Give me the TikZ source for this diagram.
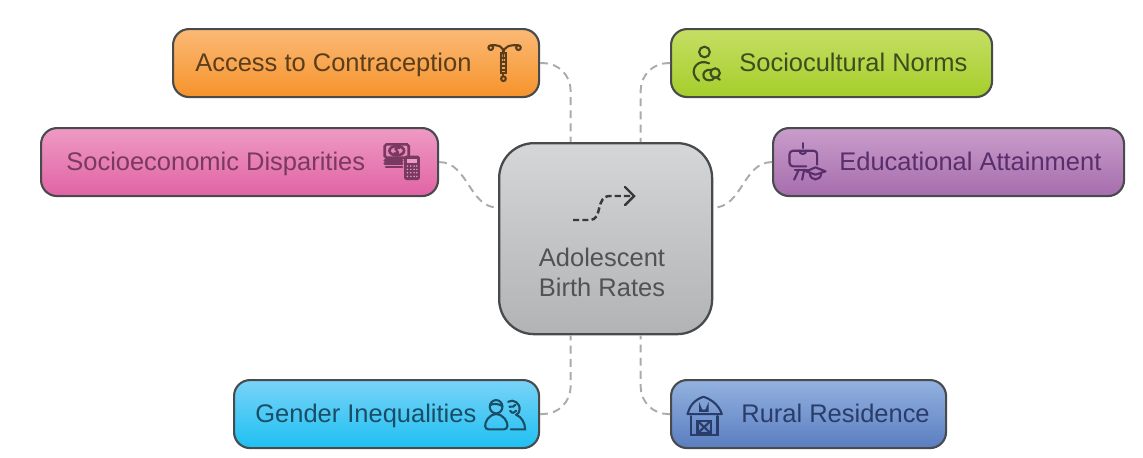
\documentclass[tikz,border=0pt]{standalone}
\usepackage{fontspec}
\setmainfont{Liberation Sans}
\usetikzlibrary{calc,arrows.meta}
\definecolor{linkgray}{HTML}{ABABAB}
\definecolor{edgegray}{HTML}{474B4C}
\definecolor{orangetop}{HTML}{FBB976}
\definecolor{orangebot}{HTML}{F6932B}
\definecolor{orangeink}{HTML}{5A3E1C}
\definecolor{pinktop}{HTML}{EE9AC4}
\definecolor{pinkbot}{HTML}{E163A4}
\definecolor{pinkink}{HTML}{783A60}
\definecolor{greentop}{HTML}{C6DE64}
\definecolor{greenbot}{HTML}{A5CE2A}
\definecolor{greenink}{HTML}{3D4E1E}
\definecolor{purpletop}{HTML}{C99DCB}
\definecolor{purplebot}{HTML}{A66DAD}
\definecolor{purpleink}{HTML}{582E6C}
\definecolor{skytop}{HTML}{79D3F8}
\definecolor{skybot}{HTML}{1EC0F2}
\definecolor{skyink}{HTML}{1A4E66}
\definecolor{bluetop}{HTML}{93B2E0}
\definecolor{bluebot}{HTML}{5A7DC0}
\definecolor{blueink}{HTML}{2A3D6A}
\definecolor{hubtop}{HTML}{D5D6D7}
\definecolor{hubbot}{HTML}{B2B3B5}
\tikzset{
  topic/.style 2 args={draw=edgegray, line width=1.2pt, rounded corners=0.32cm, minimum height=1.36cm, anchor=north west, inner sep=0pt, top color=#1, bottom color=#2},
  hub/.style={draw=edgegray, line width=1.3pt, rounded corners=0.7cm, minimum width=4.26cm, minimum height=3.82cm, anchor=north west, inner sep=0pt, top color=hubtop, bottom color=hubbot},
  lbl/.style={inner sep=0pt, anchor=base west, font=\fontsize{14.5}{17}\selectfont},
  link/.style={draw=linkgray, line width=1.1pt, dash pattern=on 4.5pt off 3pt},
  icon/.style 2 args={shift={(#1*0.02,-#2*0.02)}, x=0.00667cm, y=-0.00667cm, line width=1.2pt, line cap=round},
}
\begin{document}
\begin{tikzpicture}
  \useasboundingbox (0,0) rectangle (22.86,-9.14);
  % boxes
  \node[topic={orangetop}{orangebot}, minimum width=7.32cm] (access) at (3.44,-0.56) {};
  \node[topic={pinktop}{pinkbot}, minimum width=7.94cm] (socioeco) at (0.8,-2.54) {};
  \node[topic={greentop}{greenbot}, minimum width=6.42cm] (norms) at (13.4,-0.56) {};
  \node[topic={purpletop}{purplebot}, minimum width=7.02cm] (edu) at (15.44,-2.54) {};
  \node[topic={skytop}{skybot}, minimum width=6.1cm] (gender) at (4.66,-7.58) {};
  \node[topic={bluetop}{bluebot}, minimum width=5.5cm] (rural) at (13.4,-7.58) {};
  \node[hub] (birth) at (9.96,-2.84) {};
  % dashed links
  \draw[link, rounded corners=0.55cm] (access.east) -| ($(birth.north)+(-0.7,0)$);
  \draw[link, rounded corners=0.55cm] (norms.west) -| ($(birth.north)+(0.7,0)$);
  \draw[link, rounded corners=0.55cm] (gender.east) -| ($(birth.south)+(-0.7,0)$);
  \draw[link, rounded corners=0.55cm] (rural.west) -| ($(birth.south)+(0.7,0)$);
  \draw[link] (socioeco.east) to[out=0, in=180] ($(birth.west)+(0,0.62)$);
  \draw[link] (edu.west) to[out=180, in=0] ($(birth.east)+(0,0.62)$);
  % labels
  \node[lbl, text=orangeink] (accesstext) at (3.9,-1.42) {Access to Contraception};
  \node[lbl, text=pinkink] (socioecotext) at (1.32,-3.4) {Socioeconomic Disparities};
  \node[lbl, text=greenink] (normstext) at (14.78,-1.42) {Sociocultural Norms};
  \node[lbl, text=purpleink] (edutext) at (16.78,-3.4) {Educational Attainment};
  \node[lbl, text=skyink] (gendertext) at (5.1,-8.44) {Gender Inequalities};
  \node[lbl, text=blueink] (ruraltext) at (14.82,-8.44) {Rural Residence};
  \node[lbl, anchor=center, align=center, text=black!68] (birthtext) at (12.04,-5.44) {Adolescent\\Birth Rates};
  % hub arrow
  \draw[black!78, line width=1.4pt, dash pattern=on 3.5pt off 1.8pt] (11.46,-4.4) -- (11.8,-4.4) .. controls (12.06,-4.4) and (11.9,-3.92) .. (12.2,-3.92) -- (12.66,-3.92);
  \draw[black!78, line width=1.4pt, line cap=round] (12.5,-3.74) -- (12.68,-3.92) -- (12.5,-4.1);
  % contraception icon
  \begin{scope}[icon={480}{35}, draw=orangeink]
    \draw (32,38) circle (7) (115,38) circle (7);
    \draw (32,31) .. controls (55,29) and (70,33) .. (70,55) .. controls (70,33) and (92,29) .. (115,31);
    \draw (62,55) rectangle (78,115);
    \draw (62,68) -- (78,68) (62,81) -- (78,81) (62,94) -- (78,94) (62,105) -- (78,105);
    \draw (70,115) -- (70,124);
    \draw (70,131) circle (7);
  \end{scope}
  % money and calculator icon
  \begin{scope}[icon={378}{135}, draw=pinkink]
    \draw[line width=1.5pt, rounded corners=1pt] (20,28) rectangle (92,68);
    \draw[line width=1.5pt] (56,47) ellipse (22 and 14);
    \draw[line width=1pt] (64,40) .. controls (54,34) and (46,42) .. (56,47) .. controls (66,52) and (58,60) .. (48,54) (56,34) -- (56,60);
    \draw[line width=1.6pt] (20,76) -- (72,76) (20,86) -- (72,86) (24,96) -- (72,96);
    \fill[pinkink, rounded corners=1pt] (78,62) rectangle (125,135);
    \fill[pinktop] (87,71) rectangle (116,84);
    \foreach \kx in {88,98,108,116}
      \foreach \ky in {93,103,113,124}
        \fill[pinktop] (\kx,\ky) circle (2.6);
  \end{scope}
  % mother and child icon
  \begin{scope}[icon={685}{38}, draw=greenink]
    \draw (58,42) circle (16);
    \draw (72,76) .. controls (40,62) and (18,90) .. (28,112) .. controls (31,120) and (36,126) .. (42,128);
    \draw (90,105) circle (14);
    \draw (78,96) .. controls (62,92) and (50,105) .. (56,118) .. controls (62,130) and (82,130) .. (88,119);
    \draw (94,118) -- (104,125);
  \end{scope}
  % board and cap icon
  \begin{scope}[icon={782}{138}, draw=purpleink]
    \draw (62,15) -- (62,30);
    \draw (52,38) arc (180:0:10);
    \draw[rounded corners=2pt] (72,85) -- (22,85) -- (22,38) -- (105,38) -- (105,80);
    \draw (38,95) -- (75,95);
    \draw (50,95) -- (36,125) (66,95) -- (60,125);
    \draw[line join=round] (72,100) -- (100,88) -- (130,100) -- (100,110) -- cycle;
    \draw (83,106) .. controls (84,130) and (116,130) .. (117,106);
  \end{scope}
  % two people icon
  \begin{scope}[icon={480}{390}, draw=skyink]
    \draw (48,50) ellipse (19 and 20);
    \draw (30,45) .. controls (40,40) and (55,40) .. (66,48);
    \draw[rounded corners=2pt] (48,72) .. controls (25,74) and (15,95) .. (15,118) -- (82,118) .. controls (82,95) and (72,74) .. (48,72);
    \draw (84,35) .. controls (100,25) and (122,40) .. (118,60) .. controls (116,70) and (112,72) .. (108,74);
    \draw (88,50) .. controls (96,52) and (104,48) .. (106,44) (90,62) .. controls (96,72) and (104,68) .. (108,62);
    \draw (108,74) .. controls (124,80) and (135,98) .. (135,118) -- (92,118);
  \end{scope}
  % barn icon
  \begin{scope}[icon={680}{390}, draw=blueink]
    \draw[line join=round] (22,72) .. controls (28,50) and (40,30) .. (70,20) .. controls (100,30) and (118,50) .. (125,72) -- cycle;
    \draw (60,62) -- (60,52) arc (180:0:11) -- (82,62) -- cycle;
    \draw (32,78) -- (32,135) -- (112,135) -- (112,78);
    \draw (52,92) rectangle (92,130);
    \draw (52,92) -- (92,130) (92,92) -- (52,130);
  \end{scope}
\end{tikzpicture}
\end{document}
